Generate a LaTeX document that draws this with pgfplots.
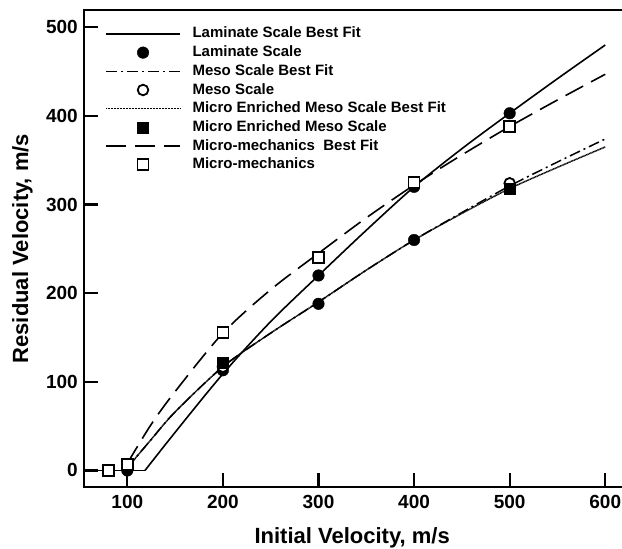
\documentclass[border=0pt]{standalone}
\usepackage{fontspec}
\setmainfont{Liberation Sans}
\usepackage{pgfplots}
\pgfplotsset{compat=1.18}
\pgfplotsset{
  leglen/.style={legend image code/.code={\draw[mark repeat=2,mark phase=2,##1] plot coordinates {(0pt,0pt) (37pt,0pt) (74pt,0pt)};}},
}
\begin{document}
\begin{tikzpicture}
\begin{axis}[
  scale only axis, width=539.7pt, height=477.3pt,
  xmin=55, xmax=619.6, ymin=-19, ymax=519.5,
  axis line style={line width=2pt},
  xtick={100,200,300,400,500,600}, ytick={0,100,200,300,400,500},
  xtick pos=bottom, ytick pos=left,
  xtick align=inside, ytick align=inside,
  major tick length=14pt,
  xtick style={line width=2.2pt, black},
  ytick style={line width=2.2pt, black},
  xticklabel style={font=\fontsize{19}{22}\selectfont\bfseries, yshift=-4pt},
  yticklabel style={font=\fontsize{19}{22}\selectfont\bfseries, xshift=-3pt},
  /pgf/number format/assume math mode=true,
  xlabel={Initial Velocity, m/s},
  ylabel={Residual Velocity, m/s},
  label style={font=\fontsize{22}{26}\selectfont\bfseries},
  xlabel style={at={(axis description cs:0.4963,0)}, anchor=base, yshift=-56.5pt},
  ylabel style={at={(axis description cs:-0.1043,0.5)}, anchor=base},
  legend style={draw=none, fill=none, at={(axis description cs:0.0384,0.965)}, anchor=north west,
    font=\fontsize{15}{18}\selectfont\bfseries, inner sep=0pt, row sep=4.7pt, column sep=11.7pt,
    nodes={inner sep=0pt, text height=11pt, text depth=3pt}},
  legend cell align=left,
  clip=false,
]
\coordinate (sw) at (rel axis cs:0,0);
\coordinate (ne) at (rel axis cs:1,1);
% best-fit curves
\addplot[forget plot, black, line width=1.6pt] coordinates {(55,0) (118.5,0)};
\addplot[forget plot, black, line width=1.6pt, smooth, tension=0.5] coordinates {
 (118.5,0) (150,43) (200,109) (250,168) (300,220) (350,271) (400,320) (450,363) (500,403) (550,442) (600,480)};
\addplot[forget plot, black, line width=1.6pt, dash pattern=on 20pt off 9pt, smooth, tension=0.5] coordinates {
 (100,8) (125,52) (150,89) (200,155) (250,204) (300,245) (350,285) (400,322) (450,356) (500,388) (550,418) (600,447)};
\addplot[forget plot, black, line width=1.5pt, dash pattern=on 11pt off 4pt on 2pt off 4pt, smooth, tension=0.5] coordinates {
 (100,3) (125,35) (150,66) (200,117) (250,155) (300,190) (350,226) (400,260) (450,291) (500,321) (550,348) (600,374)};
\addplot[forget plot, black, line width=1.5pt, dash pattern=on 1pt off 0.5pt, smooth, tension=0.5] coordinates {
 (100,3) (125,35) (150,66) (200,117) (250,155) (300,190) (350,226) (400,260) (450,290) (500,318) (550,342) (600,365)};
% data points
\addplot[forget plot, only marks, mark=*, mark size=5.8pt, black] coordinates {
 (100,0) (200,113) (300,220) (400,320) (500,403)};
\addplot[forget plot, only marks, mark=square*, mark size=5.5pt, black, line width=1.8pt, mark options={fill=white}] coordinates {
 (80,0) (100,7) (200,156) (300,240) (400,325) (500,388)};
\addplot[forget plot, only marks, mark=*, mark size=5.3pt, black, line width=1.8pt, mark options={fill=white}] coordinates {
 (200,117) (500,324)};
\addplot[forget plot, only marks, mark=square*, mark size=5.5pt, black] coordinates {
 (200,122) (500,318)};
\addplot[forget plot, only marks, mark=*, mark size=5.8pt, black] coordinates {
 (300,188) (400,260)};
% legend
\addlegendimage{leglen, black, line width=1.6pt}
\addlegendentry{Laminate Scale Best Fit}
\addlegendimage{leglen, only marks, mark=*, mark size=5.8pt, black}
\addlegendentry{Laminate Scale}
\addlegendimage{leglen, black, line width=1.5pt, dash pattern=on 11pt off 4pt on 2pt off 4pt}
\addlegendentry{Meso Scale Best Fit}
\addlegendimage{leglen, only marks, mark=*, mark size=5.3pt, black, line width=1.8pt, mark options={fill=white}}
\addlegendentry{Meso Scale}
\addlegendimage{leglen, black, line width=1.5pt, dash pattern=on 1pt off 0.5pt}
\addlegendentry{Micro Enriched Meso Scale Best Fit}
\addlegendimage{leglen, only marks, mark=square*, mark size=5.5pt, black}
\addlegendentry{Micro Enriched Meso Scale}
\addlegendimage{leglen, black, line width=1.6pt, dash pattern=on 20pt off 9pt}
\addlegendentry{Micro-mechanics\ \ Best Fit}
\addlegendimage{leglen, only marks, mark=square*, mark size=5.5pt, black, line width=1.8pt, mark options={fill=white}}
\addlegendentry{Micro-mechanics}
\end{axis}
\pgfresetboundingbox
\path ([xshift=-84.3pt,yshift=-61.7pt]sw) rectangle ([xshift=-2pt,yshift=10pt]ne);
\end{tikzpicture}
\end{document}
